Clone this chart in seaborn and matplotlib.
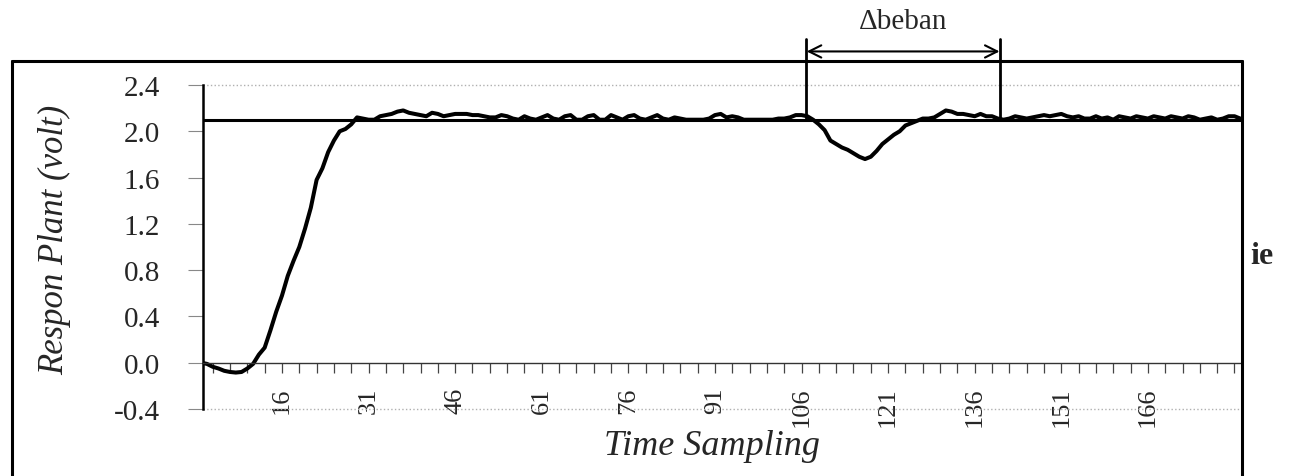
import matplotlib
matplotlib.use('Agg')
import matplotlib.pyplot as plt
from matplotlib.lines import Line2D
from matplotlib.ticker import FixedLocator
import seaborn as sns

# data sampel
sampel = list(range(2, 183))
respon = [
    0.00, -0.01, -0.035, -0.05, -0.07, -0.08, -0.085, -0.08, -0.05, -0.01,
    0.07, 0.13, 0.28, 0.44, 0.58, 0.75, 0.88, 1.00, 1.16, 1.34,
    1.58, 1.68, 1.82, 1.92, 2.00, 2.02, 2.06, 2.12, 2.11, 2.10,
    2.10, 2.13, 2.14, 2.15, 2.17, 2.18, 2.16, 2.15, 2.14, 2.13,
    2.16, 2.15, 2.13, 2.14, 2.15, 2.15, 2.15, 2.14, 2.14, 2.13,
    2.12, 2.12, 2.14, 2.13, 2.11, 2.10, 2.13, 2.11, 2.10, 2.12,
    2.14, 2.11, 2.10, 2.13, 2.14, 2.10, 2.10, 2.13, 2.14, 2.10,
    2.10, 2.14, 2.12, 2.10, 2.13, 2.14, 2.11, 2.10, 2.12, 2.14,
    2.11, 2.10, 2.12, 2.11, 2.10, 2.10, 2.10, 2.10, 2.11, 2.14,
    2.15, 2.12, 2.13, 2.12, 2.10, 2.10, 2.10, 2.10, 2.10, 2.10,
    2.11, 2.11, 2.12, 2.14, 2.14, 2.13, 2.10, 2.06, 2.01, 1.92,
    1.89, 1.86, 1.84, 1.81, 1.78, 1.76, 1.78, 1.83, 1.89, 1.93,
    1.97, 2.00, 2.05, 2.07, 2.09, 2.11, 2.11, 2.12, 2.15, 2.18,
    2.17, 2.15, 2.15, 2.14, 2.13, 2.15, 2.13, 2.13, 2.11, 2.10,
    2.11, 2.13, 2.12, 2.11, 2.12, 2.13, 2.14, 2.13, 2.14, 2.15,
    2.13, 2.12, 2.13, 2.11, 2.11, 2.13, 2.11, 2.12, 2.10, 2.13,
    2.12, 2.11, 2.13, 2.12, 2.11, 2.13, 2.12, 2.11, 2.13, 2.12,
    2.11, 2.13, 2.12, 2.10, 2.11, 2.12, 2.10, 2.11, 2.13, 2.13, 2.11,
]
setpoint = 2.1
beban_mulai = 106.8
beban_selesai = 140.4
yticks = [-0.4, 0.0, 0.4, 0.8, 1.2, 1.6, 2.0, 2.4]
xticks = [16, 31, 46, 61, 76, 91, 106, 121, 136, 151, 166]

W, H = 1292, 477

sns.set_theme(style='white')
plt.rcParams['font.family'] = ['Liberation Serif', 'DejaVu Serif']

fig = plt.figure(figsize=(W / 100, H / 100), dpi=100)
fig.patch.set_facecolor('white')

# area plot
ax = fig.add_axes([203 / W, 1 - 410 / H, (1242 - 203) / W, (410 - 86) / H])
ax.set_facecolor('white')

sns.lineplot(x=sampel, y=respon, ax=ax, color='black', linewidth=2.9)

ax.axhline(setpoint, color='black', linewidth=2.2, zorder=3)
ax.axhline(2.4, color='#b0b0b0', linestyle=':', linewidth=1.0, clip_on=False)
ax.axhline(-0.4, color='#b0b0b0', linestyle=':', linewidth=1.0, clip_on=False)

ax.set_xlim(2.32, 182.3)
ax.set_ylim(-0.4, 2.4)

for s in ['top', 'right']:
    ax.spines[s].set_visible(False)
ax.spines['left'].set_color('black')
ax.spines['left'].set_linewidth(1.8)
ax.spines['bottom'].set_position(('data', 0))
ax.spines['bottom'].set_color('#333333')
ax.spines['bottom'].set_linewidth(1.0)

ax.set_yticks(yticks)
ax.set_yticklabels([f'{v:.1f}' for v in yticks])
ax.set_xticks(xticks)
ax.set_xticklabels([str(v) for v in xticks])
ax.xaxis.set_minor_locator(FixedLocator(list(range(4, 183, 3))))

ax.tick_params(axis='y', direction='out', length=11, width=0.8, color='#888888',
               pad=20, labelsize=21, left=True)
ax.tick_params(axis='x', which='both', direction='out', length=7, width=0.9,
               color='#444444', bottom=True)
ax.tick_params(axis='x', which='major', pad=10, labelsize=19, labelrotation=90)

ax.set_ylabel('Respon Plant (volt)', fontsize=25, style='italic')
ax.yaxis.set_label_coords(-0.1424, 0.525)
ax.yaxis.label.set_va('center')
ax.set_xlabel('Time Sampling', fontsize=26, style='italic')
ax.xaxis.set_label_coords(0.49, -0.114)
ax.xaxis.label.set_va('center')

# penanda perubahan beban
for xb in [beban_mulai, beban_selesai]:
    ax.plot([xb, xb], [setpoint, 2.80], color='black', linewidth=2.0, clip_on=False)
ax.annotate('', xy=(beban_mulai + 0.1, 2.69), xytext=(beban_selesai - 0.1, 2.69),
            arrowprops=dict(arrowstyle='<->', color='black', lw=1.5, mutation_scale=22,
                            shrinkA=0, shrinkB=0),
            annotation_clip=False)
ax.text((beban_mulai + beban_selesai) / 2, 2.955, '\u0394beban', ha='center', va='center',
        fontsize=21, clip_on=False)

# bingkai luar
def garis(x0, y0, x1, y1, lw=2.2):
    fig.add_artist(Line2D([x0 / W, x1 / W], [1 - y0 / H, 1 - y1 / H],
                          transform=fig.transFigure, color='black', linewidth=lw))

garis(12, 62, 1242, 62)
garis(12, 62, 12, 477)
garis(1242, 62, 1242, 477)

fig.text(1250 / W, 1 - 257 / H, 'ie', ha='left', va='center', fontsize=23, weight='bold')

fig.savefig('out.png', dpi=100, facecolor='white')
